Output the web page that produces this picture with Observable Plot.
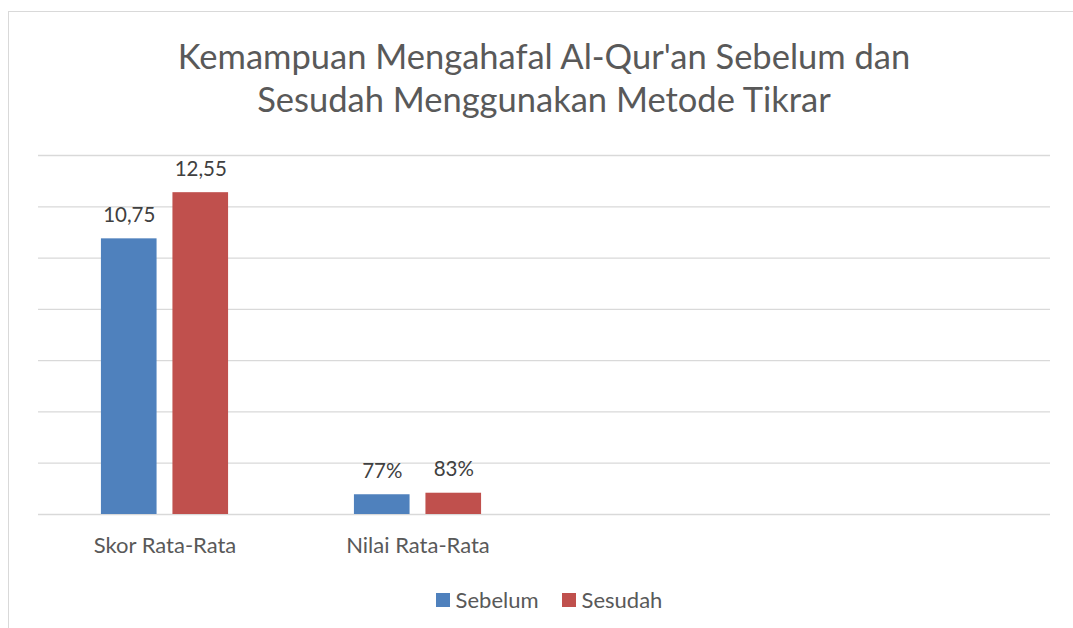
<!DOCTYPE html>
<html>
<head>
<meta charset="utf-8">
<script src="https://cdn.jsdelivr.net/npm/d3@7"></script>
<script src="https://cdn.jsdelivr.net/npm/@observablehq/plot@0.6"></script>
<style>
  html, body { margin: 0; padding: 0; background: #fff; }
  #wrap { position: relative; width: 1073px; height: 628px; overflow: hidden; font-family: Lato, "Open Sans", sans-serif; }
  #frame { position: absolute; left: 8px; top: 11px; width: 1100px; height: 700px; border-left: 1.5px solid #d9d9d9; border-top: 1.5px solid #d9d9d9; box-sizing: border-box; }
  #title { position: absolute; left: 38px; width: 1012px; top: 34px; text-align: center; color: #595959; font-size: 34.5px; line-height: 43px; }
  #chart { position: absolute; left: 0; top: 0; }
  #legend { position: absolute; left: 38px; width: 1022px; top: 587px; display: flex; justify-content: center; gap: 23px; color: #595959; font-size: 22px; line-height: 26px; }
  .item { display: flex; align-items: center; gap: 6px; }
  .sw { width: 14px; height: 14px; display: inline-block; }
</style>
</head>
<body>
<div id="wrap">
  <div id="frame"></div>
  <div id="title">Kemampuan Mengahafal Al-Qur'an Sebelum dan<br>Sesudah Menggunakan Metode Tikrar</div>
  <div id="chart"></div>
  <div id="legend"></div>
</div>
<script>
// ---- data ----
const categories = ["Skor Rata-Rata", "Nilai Rata-Rata"];
const emptySlots = ["_slot3", "_slot4"];
const series = ["Sebelum", "Sesudah"];
const sebelum = [10.75, 0.77];
const sesudah = [12.55, 0.83];
const labelsSebelum = ["10,75", "77%"];
const labelsSesudah = ["12,55", "83%"];
const yTicks = [0, 2, 4, 6, 8, 10, 12, 14];
const colors = ["#4f81bd", "#c0504d"];

// ---- tables ----
const slots = [...categories, ...emptySlots];
const data = categories.flatMap((c, i) => [
  {cat: c, s: series[0], v: sebelum[i], label: labelsSebelum[i]},
  {cat: c, s: series[1], v: sesudah[i], label: labelsSesudah[i]}
]);
const grid = slots.flatMap(slot => yTicks.map(t => ({slot, t})));

const chart = Plot.plot({
  width: 1073,
  height: 570,
  marginLeft: 38,
  marginRight: 23,
  marginTop: 155,
  marginBottom: 56,
  style: {fontFamily: "Lato, 'Open Sans', sans-serif", fontSize: "22px", color: "#595959", background: "transparent"},
  fx: {domain: slots, padding: 0, label: null, tickSize: 0, tickPadding: 23, tickFormat: d => d.startsWith("_") ? "" : d},
  x: {domain: series, paddingInner: 0.222, paddingOuter: 0.88, round: false, axis: null},
  y: {domain: [0, 14], axis: null},
  color: {domain: series, range: colors},
  marks: [
    Plot.ruleY(grid, {fx: "slot", y: "t", stroke: "#d9d9d9", strokeWidth: 1.3}),
    Plot.barY(data, {fx: "cat", x: "s", y: "v", fill: "s", insetLeft: 0, insetRight: 0}),
    Plot.text(data, {fx: "cat", x: "s", y: "v", text: "label", lineAnchor: "bottom", dy: -17, fill: "#404040", fontSize: 20.5})
  ]
});
document.getElementById("chart").appendChild(chart);

const legend = document.getElementById("legend");
series.forEach((s, i) => {
  const item = document.createElement("div");
  item.className = "item";
  const sw = document.createElement("span");
  sw.className = "sw";
  sw.style.background = colors[i];
  const tx = document.createElement("span");
  tx.textContent = s;
  item.appendChild(sw);
  item.appendChild(tx);
  legend.appendChild(item);
});
</script>
</body>
</html>
